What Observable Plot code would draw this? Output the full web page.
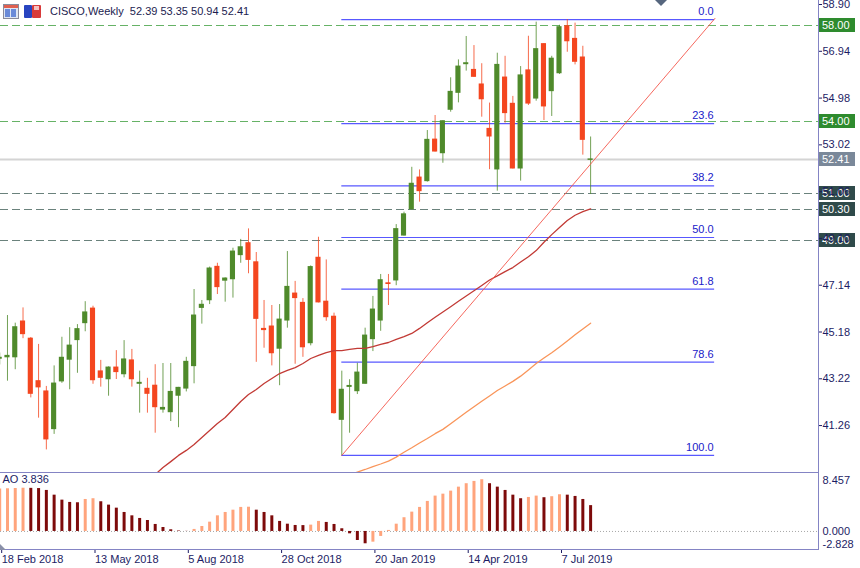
<!DOCTYPE html>
<html><head><meta charset="utf-8">
<script src="https://cdn.jsdelivr.net/npm/d3@7"></script>
<script src="https://cdn.jsdelivr.net/npm/@observablehq/plot@0.6"></script>
<style>
body{margin:0;background:#fff;}
#wrap{position:relative;width:860px;height:568px;overflow:hidden;font-family:"Liberation Sans",Arial,sans-serif;background:#fff;}
#main{position:absolute;left:0;top:0}
#ao{position:absolute;left:0;top:473px}
#title{position:absolute;left:50px;top:5px;font-size:11px;line-height:13px;color:#1c1c50;white-space:pre}
.ic{position:absolute}
</style></head>
<body><div id="wrap">
<div id="main"></div><div id="ao"></div>
<div class="ic" style="left:3px;top:4px;width:14px;height:13px;border:1px solid #8a8a9a;background:#dfe6f2"></div>
<div class="ic" style="left:4px;top:5px;width:14px;height:3px;background:#e06050"></div>
<div class="ic" style="left:5px;top:9px;width:5px;height:8px;background:#6a8ad8"></div>
<div class="ic" style="left:11px;top:9px;width:5px;height:8px;background:#6a8ad8"></div>
<div class="ic" style="left:24px;top:5px;width:8px;height:13px;background:#2844c0;border-radius:1px"></div>
<div class="ic" style="left:32px;top:5px;width:9px;height:13px;background:#d83a3a;border-radius:1px"></div>
<div class="ic" style="left:34px;top:6px;width:5px;height:4px;background:#f4c0c0"></div>
<div id="title">CISCO,Weekly  52.39 53.35 50.94 52.41</div>
<div class="ic" style="left:655px;top:0;width:0;height:0;border-left:6px solid transparent;border-right:6px solid transparent;border-top:6px solid #56667e"></div>
<div class="ic" style="left:0;top:544px;width:0;height:0;border-bottom:6px solid #8a90a8;border-right:6px solid transparent"></div>
</div>
<script>
// ---- data (week index 0 = week of 18 Feb 2018) ----
const opens  = [44.06,44.12,44.12,45.62,44.90,43.12,42.69,41.11,43.11,44.02,44.84,45.55,46.16,43.53,43.20,43.69,43.41,43.99,43.01,42.80,42.93,41.93,41.82,42.51,42.81,43.75,46.19,46.51,47.91,47.33,47.39,48.40,48.90,48.10,45.31,45.41,44.48,45.66,46.79,46.40,44.71,48.29,46.45,45.82,41.50,42.88,42.70,43.01,44.88,45.66,47.22,47.34,49.22,50.32,51.65,51.50,53.24,52.67,54.49,55.20,56.40,56.16,55.55,53.69,51.99,55.84,54.74,52.03,56.14,54.96,57.24,55.27,56.02,57.99,57.46,56.68,52.39];
const highs  = [44.30,45.87,45.55,46.19,44.95,44.66,42.90,43.76,44.96,45.36,45.49,46.45,46.26,43.99,43.72,44.40,44.82,44.45,43.54,43.24,43.81,43.86,43.86,42.86,44.12,46.96,46.50,47.90,48.06,47.45,48.69,49.06,49.50,48.51,46.50,46.29,46.33,48.55,47.30,46.58,47.95,49.15,48.20,45.97,43.54,43.18,43.87,45.34,46.67,47.59,47.59,49.68,50.20,52.08,51.97,53.62,54.25,54.03,55.83,56.58,57.56,57.18,56.42,54.77,56.86,56.73,55.05,56.30,57.57,58.16,57.26,56.73,58.03,58.27,58.12,57.15,53.35];
const lows   = [43.80,43.12,43.60,44.90,42.42,41.57,40.24,40.89,43.03,42.76,43.45,45.19,42.99,42.87,42.49,43.19,43.26,42.87,41.78,41.78,40.94,41.78,41.43,41.17,42.67,43.01,45.51,46.33,46.75,46.43,46.60,48.06,47.62,43.91,44.50,43.76,42.93,45.34,43.83,44.12,44.60,46.40,45.63,41.74,40.01,40.94,42.56,42.99,44.36,45.21,46.29,47.12,49.20,50.30,50.62,51.46,52.72,52.25,54.39,54.78,56.11,55.85,54.18,51.98,51.08,53.93,52.01,51.50,54.67,54.85,54.04,54.21,55.97,56.90,56.37,52.59,50.94];
const closes = [44.10,44.18,45.38,45.09,42.59,42.86,40.68,43.02,44.10,44.61,45.30,46.00,43.16,43.26,43.69,43.50,44.03,43.20,43.05,42.59,42.03,42.00,42.67,42.84,43.93,45.87,46.32,47.84,47.06,47.42,48.55,48.73,48.20,45.73,45.26,44.29,45.70,47.07,46.60,44.54,47.90,46.42,45.80,41.78,42.76,42.92,43.48,45.03,46.12,47.35,47.19,49.49,50.11,51.39,51.08,53.23,52.74,54.01,55.24,56.30,56.44,55.87,54.93,53.37,56.37,54.35,52.03,55.93,54.75,57.03,54.63,56.63,57.95,57.36,56.50,53.23,52.41];

const maRedStart = 20;
const maRed = [39.21,39.50,39.75,40.01,40.22,40.47,40.76,41.05,41.35,41.60,41.93,42.27,42.56,42.77,43.02,43.23,43.44,43.57,43.69,43.86,44.07,44.20,44.32,44.40,44.40,44.45,44.49,44.49,44.57,44.66,44.74,44.87,44.99,45.12,45.33,45.57,45.80,46.02,46.24,46.47,46.69,46.91,47.13,47.36,47.53,47.71,47.88,48.11,48.33,48.59,48.94,49.26,49.56,49.85,50.07,50.22,50.34];
const maOrangeStart = 45;
const maOrange = [39.19,39.31,39.42,39.54,39.65,39.77,39.94,40.14,40.33,40.53,40.72,40.92,41.10,41.34,41.58,41.82,42.05,42.28,42.50,42.73,42.92,43.11,43.33,43.59,43.86,44.09,44.31,44.55,44.80,45.06,45.31,45.55];

const aoValues = [6.30,6.34,6.38,6.42,6.40,6.37,6.09,5.39,4.65,4.31,4.26,4.75,4.86,4.41,3.91,3.46,2.82,2.32,1.93,1.63,1.04,0.59,0.25,0.07,0.02,0.30,0.74,1.38,2.32,2.82,3.16,3.57,3.60,3.16,2.82,2.32,1.49,1.08,0.89,0.87,0.94,1.49,1.34,1.04,0.40,-0.35,-1.34,-1.83,-1.59,-0.74,0.15,1.08,2.04,2.87,3.57,4.46,5.25,5.54,5.99,6.58,7.09,7.43,7.68,7.09,6.58,6.09,5.39,4.86,5.05,5.25,5.01,5.16,5.45,5.39,5.20,4.75,3.836];

const trendIdx = [44, 92];
const trendPrice = [40.01, 58.32];
const fibStart = 44, fibEnd = 91.95;
const fibLabels = ["0.0","23.6","38.2","50.0","61.8","78.6","100.0"];
const fibPrices = [58.27,53.91,51.30,49.14,46.98,43.92,40.01];

const greenLevels = [58.00, 54.00];
const darkLevels = [51.00, 50.30, 49.00];
const lastPrice = 52.41;
const priceTicks = [58.90,56.94,54.98,53.02,51.06,49.10,47.14,45.18,43.22,41.26];
const aoTicks = [8.457, 0, -2.828];
const dateTickIdx = [0,12,24,36,48,60,72];
const dateLabels = ["18 Feb 2018","13 May 2018","5 Aug 2018","28 Oct 2018","20 Jan 2019","14 Apr 2019","7 Jul 2019"];

// ---- build ----
const FONT = '"Liberation Sans", Arial, sans-serif';
const NAVY = "#1c1c64", AXIS = "#8484c4";
const GREEN = "#4f8a2b", RED = "#f4461f";
const xDomain = [0.103, 105.31];
const candles = opens.map((o, i) => ({i, o, h: highs[i], l: lows[i], c: closes[i]}));
const up = d => d.c >= d.o;
const redMA = maRed.map((v, k) => ({i: k + maRedStart, v}));
const orangeMA = maOrange.map((v, k) => ({i: k + maOrangeStart, v}));
const trend = trendIdx.map((i, k) => ({i, p: trendPrice[k]}));
const ao = aoValues.map((v, i) => ({i, v, rising: i === 0 || v > aoValues[i - 1]}));

const chrome = (index, scales, values, dim) => {
  const g = d3.create("svg:g");
  const xr = dim.width - dim.marginRight + 0.5;
  const yb = dim.height - dim.marginBottom - 0.5;
  g.append("line").attr("x1", xr).attr("x2", xr).attr("y1", 0).attr("y2", yb + 0.5).attr("stroke", AXIS);
  g.append("line").attr("x1", 0).attr("x2", xr).attr("y1", yb).attr("y2", yb).attr("stroke", AXIS);
  return g.node();
};
const boxList = [
  ...greenLevels.map(v => ({v, bg: "#2e8b2e"})),
  {v: lastPrice, bg: "#7a8899"},
  ...darkLevels.map(v => ({v, bg: "#2f4a4a"}))
];
const boxes = (index, scales, values, dim) => {
  const g = d3.create("svg:g").attr("text-anchor", "start");
  const x0 = dim.width - dim.marginRight + 1;
  for (const b of boxList) {
    const y = Math.round(scales.y(b.v));
    g.append("rect").attr("x", x0).attr("y", y - 7).attr("width", 36).attr("height", 14).attr("fill", b.bg);
    g.append("text").attr("x", x0 + 3).attr("y", y).attr("dy", "0.36em").attr("fill", "#fff")
      .attr("text-anchor", "start").attr("font-size", 11).text(b.v.toFixed(2));
  }
  return g.node();
};

const mainPlot = Plot.plot({
  width: 860, height: 473, marginTop: 0, marginBottom: 0, marginLeft: 0, marginRight: 42,
  x: {domain: xDomain, axis: null, label: null},
  y: {domain: [39.252, 59.068], axis: null, label: null},
  style: {fontFamily: FONT, fontSize: "11px", background: "white", overflow: "visible"},
  marks: [
    Plot.ruleY([lastPrice], {stroke: "#d4d4d4", strokeWidth: 2}),
    Plot.ruleY(greenLevels, {stroke: "#66b266", strokeDasharray: "8,4", shapeRendering: "crispEdges"}),
    Plot.ruleY(darkLevels, {stroke: "#6a827c", strokeDasharray: "8,4", shapeRendering: "crispEdges"}),
    Plot.ruleY(fibPrices, {x1: () => fibStart, x2: () => fibEnd, stroke: "#5858ff", strokeWidth: 1.2}),
    Plot.text(fibPrices, {x: () => fibEnd, y: d => d, text: (d, i) => fibLabels[i], textAnchor: "end", dx: -1, dy: -8, fill: "#2020c8", fontSize: 11}),
    Plot.ruleX(candles, {filter: up, x: "i", y1: "l", y2: "h", stroke: GREEN, strokeWidth: 1, strokeOpacity: 0.8}),
    Plot.ruleX(candles, {filter: d => !up(d), x: "i", y1: "l", y2: "h", stroke: RED, strokeWidth: 1, strokeOpacity: 0.8}),
    Plot.rect(candles, {filter: up, x1: d => d.i - 0.33, x2: d => d.i + 0.33, y1: "o", y2: "c", fill: GREEN, insetTop: -0.5, insetBottom: -0.5}),
    Plot.rect(candles, {filter: d => !up(d), x1: d => d.i - 0.33, x2: d => d.i + 0.33, y1: "o", y2: "c", fill: RED, insetTop: -0.5, insetBottom: -0.5}),
    Plot.line(redMA, {x: "i", y: "v", stroke: "#c23a35", strokeWidth: 1.3, clip: true}),
    Plot.line(orangeMA, {x: "i", y: "v", stroke: "#f9955a", strokeWidth: 1.3, clip: true}),
    Plot.line(trend, {x: "i", y: "p", stroke: "#f4574c", strokeWidth: 0.9}),
    chrome,
    boxes,
    Plot.axisY({anchor: "right", ticks: priceTicks, tickFormat: d => d.toFixed(2), tickSize: 3, tickPadding: 1, color: NAVY, fontSize: 11, label: null})
  ]
});
document.getElementById("main").appendChild(mainPlot);

const aoPlot = Plot.plot({
  width: 860, height: 95, marginTop: 0, marginBottom: 18, marginLeft: 0, marginRight: 42,
  x: {domain: xDomain, axis: null, label: null},
  y: {domain: [-2.828, 8.457], range: [77, 1], axis: null, label: null},
  style: {fontFamily: FONT, fontSize: "11px", background: "white", overflow: "visible"},
  marks: [
    Plot.ruleY([0], {stroke: "#a8a8a8", strokeDasharray: "1,2"}),
    Plot.ruleX(ao, {filter: d => d.rising, x: "i", y1: () => 0, y2: "v", stroke: "#ffa47c", strokeWidth: 3}),
    Plot.ruleX(ao, {filter: d => !d.rising, x: "i", y1: () => 0, y2: "v", stroke: "#7d0a0a", strokeWidth: 3}),
    Plot.text([aoValues[aoValues.length - 1]], {frameAnchor: "top-left", text: d => "AO " + d.toFixed(3), dx: 2, dy: 2, lineAnchor: "top", textAnchor: "start", fill: NAVY, fontSize: 11}),
    Plot.text([aoTicks[0]], {y: d => d, frameAnchor: "right", text: d => d.toFixed(3), textAnchor: "start", dx: 4, dy: 6, fill: NAVY, fontSize: 11}),
    Plot.text([aoTicks[1]], {y: d => d, frameAnchor: "right", text: d => d.toFixed(3), textAnchor: "start", dx: 4, dy: 0, fill: NAVY, fontSize: 11}),
    Plot.text([aoTicks[2]], {y: d => d, frameAnchor: "right", text: d => d.toFixed(3), textAnchor: "start", dx: 4, dy: -6, fill: NAVY, fontSize: 11}),
    chrome,
    Plot.axisX({ticks: dateTickIdx, tickFormat: d => dateLabels[dateTickIdx.indexOf(d)], tickSize: 3, tickPadding: 2, textAnchor: "start", dx: 2, color: NAVY, fontSize: 11, label: null})
  ]
});
document.getElementById("ao").appendChild(aoPlot);
</script>
</body></html>
